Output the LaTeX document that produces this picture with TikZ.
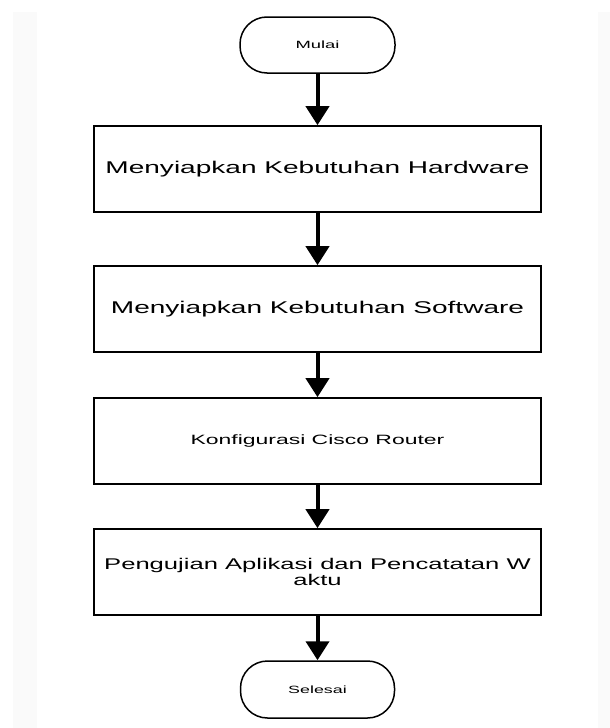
\documentclass[tikz,border=0pt]{standalone}
\usepackage{fontspec}
\setmainfont{Liberation Sans}
\usepackage{graphicx}
\usetikzlibrary{arrows.meta}
\newcommand{\wtxt}[2]{\scalebox{#1}[1]{#2}}
\begin{document}
\begin{tikzpicture}[x=1pt,y=-1pt,
  stepbox/.style={draw=black, line width=1.6pt, minimum width=447pt, minimum height=86pt, inner sep=0pt, fill=white},
  term/.style={draw=black, line width=1.5pt, rounded corners=27pt, minimum width=155pt, minimum height=56pt, inner sep=0pt, fill=white, font=\fontsize{10.5}{12}\selectfont},
  arr/.style={line width=4pt, -{Triangle[width=23pt,length=19pt]}}]
\fill[white] (0,0) rectangle (610,728);
\useasboundingbox (0,0) rectangle (610,728);
\fill[black!1.8] (13,12) rectangle (37,728);
\fill[black!1.8] (598,12) rectangle (610,728);
\node[term] (start) at (317.5,45) {\wtxt{1.75}{Mulai}};
\node[stepbox, font=\fontsize{17}{18}\selectfont] (b1) at (317.5,169) {\wtxt{1.65}{Menyiapkan Kebutuhan Hardware}};
\node[stepbox, font=\fontsize{17}{18}\selectfont] (b2) at (317.5,309) {\wtxt{1.65}{Menyiapkan Kebutuhan Software}};
\node[stepbox, font=\fontsize{13.5}{15}\selectfont] (b3) at (317.5,441) {\wtxt{1.7}{Konfigurasi Cisco Router}};
\node[stepbox, align=center, font=\fontsize{15.5}{15.5}\selectfont] (b4) at (317.5,572) {\wtxt{1.65}{Pengujian Aplikasi dan Pencatatan W}\\\wtxt{1.65}{aktu}};
\node[term, minimum width=154pt, minimum height=57pt] (end) at (317.5,689.5) {\wtxt{1.7}{Selesai}};
\draw[arr] (start.south) -- (b1.north);
\draw[arr] (b1.south) -- (b2.north);
\draw[arr] (b2.south) -- (b3.north);
\draw[arr] (b3.south) -- (b4.north);
\draw[arr] (b4.south) -- (end.north);
\end{tikzpicture}
\end{document}
